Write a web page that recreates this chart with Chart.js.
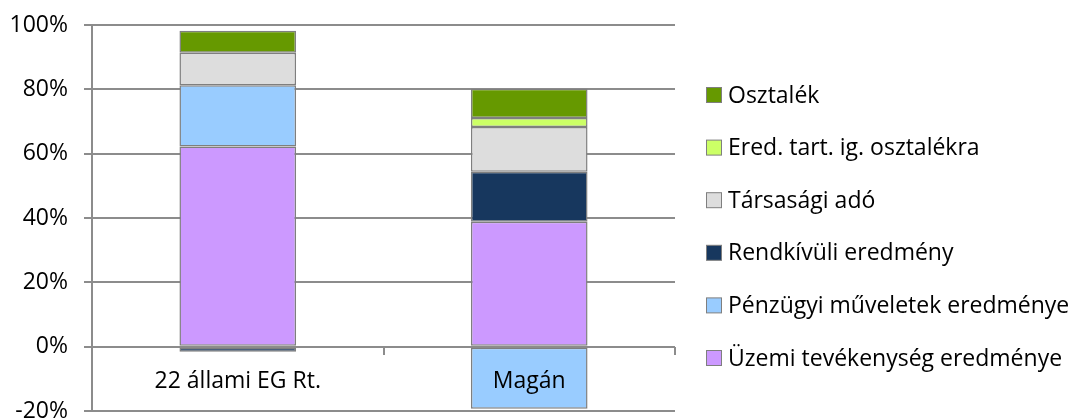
<!DOCTYPE html>
<html>
<head>
<meta charset="utf-8">
<script src="https://cdn.jsdelivr.net/npm/chart.js@4/dist/chart.umd.min.js"></script>
<style>
    html, body { margin: 0; padding: 0; background: #ffffff; }
    #wrap { width: 1075px; height: 420px; position: relative; }
</style>
</head>
<body>
<div id="wrap"><canvas id="chart" width="1075" height="420"></canvas></div>
<script>
// Categories and series (percent of revenue), stacking order bottom -> top
const categories = ['22 állami EG Rt.', 'Magán'];
const seriesNames = [
    'Üzemi tevékenység eredménye',
    'Pénzügyi műveletek eredménye',
    'Rendkívüli eredmény',
    'Társasági adó',
    'Ered. tart. ig. osztalékra',
    'Osztalék'
];
const uzemi = [62.2, 38.8];
const penzugyi = [19.1, -19.3];
const rendkivuli = [-1.6, 15.6];
const tarsasagi = [10.1, 13.9];
const eredTart = [0, 2.8];
const osztalek = [6.8, 9.1];
const yTicks = [-20, 0, 20, 40, 60, 80, 100];

const colors = ['#cc99ff', '#99ccff', '#17375e', '#dddddd', '#ccff66', '#669900'];
const gridColor = '#8c8c8c';
const fontFamily = '"Open Sans", "DejaVu Sans", sans-serif';
const fontSize = 23;

const seriesValues = [uzemi, penzugyi, rendkivuli, tarsasagi, eredTart, osztalek];

// Legend drawn to the right of the plot, in reverse stacking order (like Excel)
const sideLegend = {
    id: 'sideLegend',
    afterDraw(chart) {
        const ctx = chart.ctx;
        const items = chart.data.datasets.map((ds) => ({ text: ds.label, color: ds.backgroundColor })).reverse();
        ctx.save();
        ctx.font = `${fontSize}px ${fontFamily}`;
        ctx.textBaseline = 'middle';
        ctx.textAlign = 'left';
        items.forEach((item, i) => {
            const cy = 95 + i * 52.6;
            ctx.fillStyle = item.color;
            ctx.fillRect(706.5, cy - 7.5, 15, 15);
            ctx.strokeStyle = '#7f7f7f';
            ctx.lineWidth = 1;
            ctx.strokeRect(706.5, cy - 7.5, 15, 15);
            ctx.fillStyle = '#000000';
            ctx.fillText(item.text, 728, cy + 1);
        });
        ctx.restore();
    }
};

const ctx = document.getElementById('chart').getContext('2d');
new Chart(ctx, {
    type: 'bar',
    data: {
        labels: categories,
        datasets: seriesNames.map((name, i) => ({
            label: name,
            data: seriesValues[i],
            backgroundColor: colors[i],
            borderColor: '#7f7f7f',
            borderWidth: 1.5,
            borderSkipped: false,
            categoryPercentage: 1.0,
            barPercentage: 0.4
        }))
    },
    options: {
        responsive: false,
        animation: false,
        layout: { padding: { top: 25, right: 400, bottom: 9, left: 0 } },
        plugins: {
            legend: { display: false },
            tooltip: { enabled: false }
        },
        scales: {
            x: {
                stacked: true,
                position: { y: 0 },
                grid: {
                    drawOnChartArea: false,
                    drawTicks: true,
                    tickLength: 8,
                    color: gridColor,
                    lineWidth: 2,
                    offset: true
                },
                border: { display: false },
                ticks: {
                    z: 1, // category labels sit on top of the bars, as in Excel
                    color: '#000000',
                    font: { family: fontFamily, size: fontSize },
                    padding: 13,
                    maxRotation: 0
                },
                afterFit: (scale) => { scale.height = 0; }
            },
            y: {
                stacked: true,
                min: yTicks[0],
                max: yTicks[yTicks.length - 1],
                afterBuildTicks: (scale) => { scale.ticks = yTicks.map(v => ({ value: v })); },
                grid: {
                    color: gridColor,
                    lineWidth: 2,
                    tickLength: 8
                },
                border: { display: true, color: gridColor, width: 2 },
                ticks: {
                    color: '#000000',
                    font: { family: fontFamily, size: fontSize },
                    padding: 16,
                    callback: (value) => value + '%'
                },
                afterFit: (scale) => {
                    scale.width = 92;
                    scale.paddingTop = 0;
                    scale.paddingBottom = 0;
                }
            }
        }
    },
    plugins: [sideLegend]
});
</script>
</body>
</html>
